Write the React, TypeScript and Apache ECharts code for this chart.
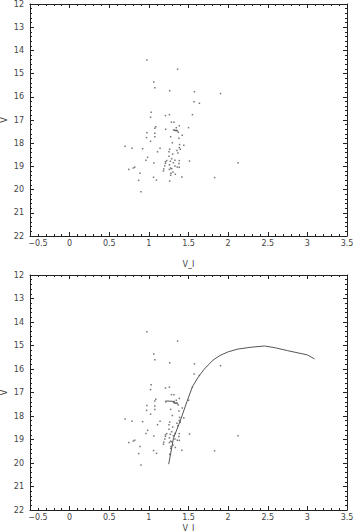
import React, { useEffect, useRef } from "react";
import * as echarts from "echarts";

// Observed stars: V-I colour and V magnitude
const starVI = [
  0.975, 1.3625, 1.0625, 1.075, 1.2625, 1.575, 1.904, 1.571, 1.6375, 1.029,
  1.021, 1.209, 1.259, 1.55, 1.284, 1.316, 1.384, 1.5, 1.0875, 1.075,
  1.2125, 1.346, 1.325, 1.3375, 1.35, 1.359, 1.3125, 1.371, 0.975, 1.075,
  1.421, 1.275, 0.971, 1.075, 1.379, 1.021, 1.296, 1.3875, 1.441, 0.7,
  0.7875, 0.921, 1.141, 1.2625, 1.384, 1.396, 1.354, 1.109, 1.254, 1.3,
  1.366, 1.254, 0.984, 1.2875, 0.9625, 1.225, 1.209, 1.329, 1.384, 1.271,
  1.5125, 1.0625, 1.209, 1.309, 1.379, 1.259, 1.2, 1.329, 1.359, 1.384,
  0.821, 0.804, 1.275, 1.2875, 0.746, 1.1875, 1.259, 1.184, 1.304, 0.8875,
  1.279, 1.334, 1.275, 1.059, 1.096, 1.416, 1.829, 0.871, 1.2625, 0.9,
  2.125,
];
const starV = [
  14.41, 14.81, 15.36, 15.61, 15.74, 15.78, 15.86, 16.21, 16.28, 16.67,
  16.88, 16.81, 16.77, 16.77, 17.09, 17.1, 17.25, 17.33, 17.29, 17.36,
  17.4, 17.33, 17.44, 17.46, 17.44, 17.47, 17.43, 17.53, 17.55, 17.57,
  17.66, 17.72, 17.76, 17.72, 17.79, 17.92, 17.98, 18.06, 18.09, 18.13,
  18.22, 18.24, 18.22, 18.26, 18.19, 18.26, 18.31, 18.37, 18.37, 18.47,
  18.42, 18.56, 18.61, 18.67, 18.74, 18.75, 18.8, 18.74, 18.75, 18.78,
  18.77, 18.85, 18.87, 18.84, 18.87, 18.93, 18.98, 18.98, 19.03, 19.04,
  19.03, 19.07, 19.07, 19.1, 19.13, 19.11, 19.13, 19.2, 19.24, 19.3,
  19.3, 19.34, 19.38, 19.47, 19.59, 19.46, 19.48, 19.6, 19.63, 20.09,
  18.84,
];

// Isochrone (giant branch)
const isoVI = [1.25, 1.31, 1.4, 1.48, 1.55, 1.625, 1.7, 1.81, 1.9, 2.0, 2.125, 2.3, 2.46, 2.6, 2.75, 3.0, 3.09];
const isoV = [20.05, 18.95, 18.17, 17.39, 16.75, 16.33, 16.0, 15.62, 15.42, 15.27, 15.15, 15.07, 15.02, 15.1, 15.22, 15.4, 15.57];

// Horizontal branch segment
const hbVI = [1.21, 1.33];
const hbV = [17.36, 17.38];

// Tick ranges
const xTicks = { min: -0.5, max: 3.5, interval: 0.5 };
const yTicks = { min: 12, max: 22, interval: 1 };

const FONT = "DejaVu Sans";
const AX = "#222";
const TXT = "#444";

function xAxisDef(grid: number, top: boolean, nameGap: number) {
  return {
    type: "value",
    gridIndex: grid,
    position: top ? "top" : "bottom",
    min: xTicks.min,
    max: xTicks.max,
    interval: xTicks.interval,
    name: top ? "" : "V_I",
    nameLocation: "middle",
    nameGap,
    nameTextStyle: { fontFamily: FONT, fontSize: 8, color: TXT },
    axisLine: { show: true, onZero: false, lineStyle: { color: AX, width: 1 } },
    axisTick: { show: true, inside: true, length: 4, lineStyle: { color: AX } },
    minorTick: { show: true, splitNumber: 5, length: 2, lineStyle: { color: AX } },
    splitLine: { show: false },
    axisLabel: {
      show: !top,
      margin: 3,
      fontFamily: FONT,
      fontSize: 8,
      color: TXT,
      formatter: (v: number) => {
        const s = String(v).replace("-", "\u2212");
        return v === xTicks.min ? "{f|" + s + "}" : s;
      },
      rich: { f: { fontFamily: FONT, fontSize: 8, color: TXT, padding: [0, 0, 0, 16] } },
    },
  };
}

function yAxisDef(grid: number, right: boolean) {
  return {
    type: "value",
    gridIndex: grid,
    position: right ? "right" : "left",
    inverse: true,
    min: yTicks.min,
    max: yTicks.max,
    interval: yTicks.interval,
    name: right ? "" : "V",
    nameLocation: "middle",
    nameGap: 22,
    nameMoveOverlap: false,
    nameTextStyle: { fontFamily: FONT, fontSize: 8, color: TXT },
    axisLine: { show: true, onZero: false, lineStyle: { color: AX, width: 1 } },
    axisTick: { show: true, inside: true, length: 4, lineStyle: { color: AX } },
    minorTick: { show: true, splitNumber: 5, length: 2, lineStyle: { color: AX } },
    splitLine: { show: false },
    axisLabel: {
      show: !right,
      margin: 6,
      fontFamily: FONT,
      fontSize: 8,
      color: TXT,
    },
  };
}

export default function App() {
  const ref = useRef<HTMLDivElement>(null);
  useEffect(() => {
    document.body.style.margin = "0";
    if (!ref.current) return;
    const chart = echarts.init(ref.current, null, { renderer: "svg" });
    const stars = starVI.map((c, i) => [c, starV[i]]);
    const iso = isoVI.map((c, i) => [c, isoV[i]]);
    const hb = hbVI.map((c, i) => [c, hbV[i]]);
    const dot = {
      type: "scatter",
      symbol: "rect",
      symbolSize: 1.5,
      itemStyle: { color: "#555" },
      silent: true,
    };
    chart.setOption({
      animation: false,
      backgroundColor: "#fff",
      grid: [
        { left: 30, top: 4, width: 317, height: 232, outerBoundsMode: "none", containLabel: false },
        { left: 30, top: 275, width: 317, height: 235, outerBoundsMode: "none", containLabel: false },
      ],
      xAxis: [
        xAxisDef(0, false, 24),
        xAxisDef(0, true, 0),
        xAxisDef(1, false, 14),
        xAxisDef(1, true, 0),
      ],
      yAxis: [yAxisDef(0, false), yAxisDef(0, true), yAxisDef(1, false), yAxisDef(1, true)],
      series: [
        { ...dot, xAxisIndex: 0, yAxisIndex: 0, data: stars },
        { ...dot, xAxisIndex: 2, yAxisIndex: 2, data: stars },
        {
          type: "line",
          xAxisIndex: 2,
          yAxisIndex: 2,
          data: iso,
          showSymbol: false,
          lineStyle: { color: "#555", width: 1 },
          silent: true,
        },
        {
          type: "line",
          xAxisIndex: 2,
          yAxisIndex: 2,
          data: hb,
          showSymbol: false,
          lineStyle: { color: "#555", width: 1 },
          silent: true,
        },
      ],
    });
    return () => chart.dispose();
  }, []);
  return <div ref={ref} style={{ width: 356, height: 532 }} />;
}
